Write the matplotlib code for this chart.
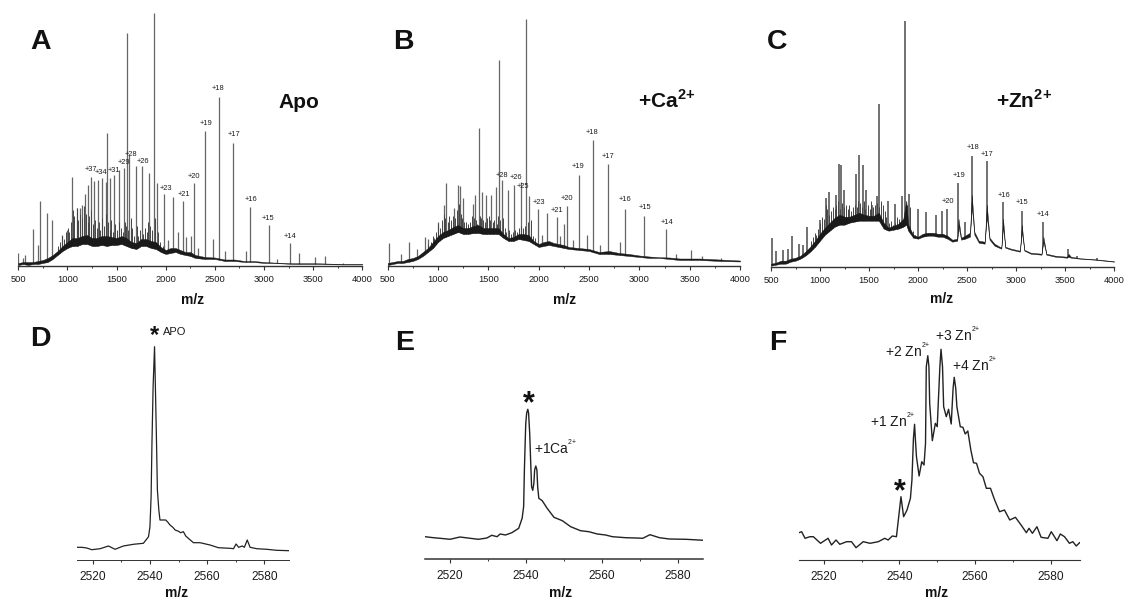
#!/usr/bin/env python3
import numpy as np
import matplotlib
matplotlib.use('Agg')
import matplotlib.pyplot as plt
from matplotlib.ticker import MultipleLocator

W, H = 1124, 599
plt.rcParams['font.family'] = ['Liberation Sans', 'DejaVu Sans']
plt.rcParams['mathtext.fontset'] = 'custom'
plt.rcParams['mathtext.rm'] = 'Liberation Sans'
plt.rcParams['mathtext.bf'] = 'Liberation Sans:bold'

# Overview spectra: envelope band and sharp peaks (intensity in arbitrary units)
env_x = [500, 550, 600, 650, 700, 750, 800, 850, 900, 950, 1000, 1050, 1100, 1150, 1200, 1250, 1300, 1350,
         1400, 1450, 1500, 1550, 1600, 1650, 1700, 1750, 1800, 1850, 1900, 1950, 2000, 2050, 2100, 2150,
         2200, 2250, 2300, 2400, 2500, 2600, 2700, 2800, 2900, 3000, 3100, 3200, 3300, 3400, 3500, 3600,
         3800, 4000]
apo_low = [1, 2, 1, 2, 2, 3, 4, 7, 11, 15, 18, 20, 20, 22, 22, 20, 20, 21, 20, 21, 21, 22, 20, 18, 17, 20, 20,
           18, 17, 14, 12, 13, 14, 12, 11, 10, 8, 7, 7, 5, 5, 4, 4, 3, 3, 2.5, 2, 2, 2, 2, 1.5, 1.5]
apo_high = [3, 4, 4, 4, 5, 6, 8, 11, 15, 20, 24, 28, 28, 30, 31, 28, 28, 30, 30, 29, 28, 30, 28, 24, 23, 27, 27,
            25, 24, 19, 16, 18, 18, 16, 14, 14, 11, 9, 8.5, 6.5, 6.5, 5, 5, 4, 3.5, 3, 2.8, 2.8, 2.8, 2.6, 2, 2]
apo_peak_x = [500, 550, 570, 650, 703, 724, 788, 846, 944, 1000, 1049, 1093, 1127, 1148, 1178, 1205, 1236, 1270,
              1314, 1351, 1389, 1405, 1436, 1473, 1527, 1578, 1608, 1630, 1694, 1755, 1830, 1877, 1907, 1985,
              2026, 2073, 2128, 2175, 2209, 2253, 2287, 2331, 2402, 2484, 2541, 2604, 2687, 2816, 2857, 3047,
              3134, 3264, 3356, 3515, 3620, 3807]
apo_peak_y = [13, 8, 11, 37, 21, 65, 53, 46, 31, 36, 89, 58, 58, 61, 72, 81, 89, 85,
              86, 88, 84, 133, 88, 91, 96, 98, 233, 111, 100, 100, 93, 253, 83, 72,
              26, 69, 34, 65, 29, 30, 83, 18, 135, 27, 169, 15, 123, 15, 59, 41,
              7, 23, 13, 9, 10, 3]

ca_low = [1, 2, 3, 3, 4, 5, 7, 10, 14, 18, 24, 28, 30, 32, 34, 32, 32, 33, 33, 32, 32, 32, 32, 28, 25, 25, 27,
          26, 25, 22, 19, 20, 21, 20, 19, 18, 17, 16, 15, 12, 12, 11, 10, 9, 8, 8, 7, 6, 6, 6, 5, 4.5]
ca_high = [3, 4, 5, 5, 7, 8, 10, 14, 18, 24, 30, 34, 36, 39, 41, 38, 38, 40, 41, 38, 38, 38, 38, 32, 28, 29, 32,
           32, 31, 25, 22, 24, 25, 23, 22, 21, 19, 18, 17, 14, 15, 13, 12, 10.5, 9.5, 8.8, 8.5, 7.5, 7.5, 7.5, 6.5, 5.5]
ca_peak_x = [513, 632, 715, 795, 870, 904, 1000, 1063, 1083, 1162, 1195, 1215, 1252, 1351, 1368, 1404, 1440, 1477,
             1526, 1575, 1609, 1632, 1695, 1758, 1824, 1874, 1904, 1990, 2030, 2083, 2179, 2212, 2248, 2285,
             2338, 2404, 2480, 2540, 2612, 2689, 2811, 2855, 3046, 3265, 3367, 3516, 3622, 3808]
ca_peak_y = [23, 12, 24, 17, 29, 27, 44, 61, 83, 58, 81, 80, 68, 62, 71, 138, 74, 71,
             71, 79, 206, 86, 76, 81, 84, 247, 70, 57, 31, 53, 49, 30, 42, 60,
             26, 91, 31, 126, 21, 102, 24, 57, 50, 37, 12, 16, 10, 8]

zn_env_x = [500, 550, 600, 650, 700, 750, 800, 850, 900, 950, 1000, 1050, 1100, 1150, 1200, 1250, 1300, 1350,
            1400, 1450, 1500, 1550, 1600, 1650, 1700, 1750, 1800, 1850, 1880, 1900, 1950, 2000, 2050, 2100,
            2150, 2200, 2250, 2300, 2350, 2400, 2413, 2440, 2480, 2530, 2549, 2575, 2620, 2680, 2702, 2730,
            2780, 2850, 2868, 2890, 2950, 3040, 3059, 3085, 3150, 3260, 3279, 3310, 3400, 3520, 3535, 3560,
            3650, 3800, 4000]
zn_low = [1, 2, 3, 3, 5, 6, 8, 11, 15, 20, 26, 32, 36, 40, 42, 42, 44, 45, 46, 46, 46, 46, 46, 38, 36, 37, 38,
          40, 42, 36, 29, 28, 30, 31, 31, 30, 30, 28, 25, 26, 40, 27, 28, 30, 60, 32, 24, 23, 50, 27,
          21, 18, 40, 19, 17, 15, 35, 16, 13, 12, 25, 12, 10, 9, 10, 9, 8, 7, 5]
zn_high = [3, 4, 6, 6, 8, 9, 11, 15, 20, 26, 33, 39, 44, 49, 52, 50, 50, 52, 54, 52, 51, 51, 54, 44, 39, 41, 43,
           48, 66, 42, 32, 30, 33, 34, 34, 33, 33, 31, 27, 28, 48, 29, 31, 34, 72, 35, 26, 25, 62, 29,
           23, 19, 48, 20, 18, 16, 42, 17, 14, 13, 30, 13, 11, 10, 13, 10, 8.5, 7.5, 5.5]
zn_peak_x = [514, 551, 626, 677, 714, 785, 830, 867, 1000, 1061, 1091, 1159, 1193, 1217, 1248, 1366, 1400, 1434,
             1468, 1526, 1577, 1604, 1696, 1764, 1832, 1869, 1910, 1995, 2084, 2182, 2247, 2291, 2413, 2484,
             2549, 2702, 2868, 3059, 3279, 3531, 3626, 3826]
zn_peak_y = [29, 16, 17, 18, 31, 23, 22, 40, 47, 69, 75, 72, 103, 102, 77, 93, 112, 102,
             77, 62, 71, 163, 66, 63, 71, 246, 73, 58, 55, 52, 56, 58, 84, 45,
             111, 106, 65, 56, 45, 18, 11, 9]

# Dense small peaks sitting on the envelope
fine_x = [905, 927, 946, 962, 981, 1003, 1018, 1037, 1058, 1071, 1096, 1112, 1131, 1152, 1167, 1186, 1209, 1224,
          1243, 1262, 1281, 1297, 1318, 1336, 1354, 1373, 1392, 1413, 1429, 1446, 1462, 1488, 1506, 1521, 1542,
          1561, 1583, 1597, 1618, 1642, 1661, 1677, 1703, 1722, 1741, 1768, 1787, 1806, 1823, 1845, 1862, 1891,
          1921, 1946, 1968]
apo_fine_y = [20, 24, 30, 27, 34, 38, 34, 44, 56, 50, 58, 46, 52, 48, 60, 52, 44, 50,
              56, 42, 46, 38, 44, 36, 48, 40, 52, 44, 36, 46, 34, 42, 36, 44, 38,
              34, 44, 40, 36, 48, 38, 30, 40, 30, 36, 32, 38, 34, 44, 40, 36, 48,
              34, 24, 20]
ca_fine_y = [22, 24, 30, 28, 34, 42, 38, 46, 52, 48, 44, 50, 46, 50, 48, 56, 62, 52,
             48, 44, 44, 42, 44, 50, 48, 46, 42, 50, 48, 46, 44, 48, 50, 46, 44,
             46, 42, 50, 46, 48, 38, 34, 36, 32, 34, 36, 34, 38, 40, 38, 40, 44,
             46, 30, 28]
zn_fine_y = [26, 30, 34, 32, 38, 44, 50, 48, 62, 58, 52, 56, 60, 58, 62, 66, 58, 64,
             60, 62, 58, 62, 56, 60, 62, 60, 66, 64, 60, 66, 58, 62, 58, 66, 60,
             62, 64, 60, 66, 62, 56, 50, 44, 46, 42, 44, 50, 48, 44, 46, 48, 62,
             60, 36, 32]

# Charge state labels
apo_charge = ['+37', '+34', '+31', '+29', '+28', '+26', '+23', '+21', '+20', '+19', '+18', '+17', '+16', '+15', '+14']
apo_charge_x = [1239, 1344, 1477, 1575, 1646, 1768, 2002, 2189, 2287, 2406, 2535, 2691, 2864, 3043, 3264]
apo_charge_y = [96.7, 93.3, 95.3, 103.3, 112, 104.7, 77.7, 71.7, 89, 142.3, 177.3, 131.7, 66.3, 47.3, 30]
ca_charge = ['+28', '+26', '+25', '+23', '+21', '+20', '+19', '+18', '+17', '+16', '+15', '+14']
ca_charge_x = [1632, 1771, 1844, 2000, 2179, 2278, 2394, 2530, 2692, 2861, 3056, 3275]
ca_charge_y = [90.3, 88.7, 79.7, 63, 55.3, 67.3, 99.7, 133, 109.7, 66.7, 58.3, 43.3]
zn_charge = ['+20', '+19', '+18', '+17', '+16', '+15', '+14']
zn_charge_x = [2301, 2416, 2566, 2709, 2875, 3059, 3276]
zn_charge_y = [65, 91.3, 119.3, 112, 71, 63.7, 52]

# Zoomed spectra around the +18 charge state
d_x = [2514.6, 2516.2, 2517.9, 2519.7, 2522.6, 2525.5, 2527.8, 2530.7, 2534.2, 2537.7, 2539.5, 2540.0, 2540.4,
       2540.7, 2541.1, 2541.6, 2541.9, 2542.3, 2542.6, 2543.1, 2543.5, 2545.5, 2546.2, 2547.0, 2548.0, 2548.8,
       2550.0, 2550.7, 2551.7, 2552.5, 2553.4, 2555.2, 2557.5, 2561.0, 2563.9,
       2568.0, 2569.2, 2570.1, 2571.0, 2572.3, 2573.0, 2574.0, 2575.0, 2577.3, 2580.8, 2584.3, 2588.6]
d_y = [12.7, 12.7, 12, 10.3, 11.3, 14, 10.7, 14, 15.7, 16.7, 23.3, 33.3, 63.3,
       116.7, 173.3, 213.3, 173.3, 116.7, 70, 50, 40, 40, 38, 35, 32.7, 30,
       28.7, 27.3, 28.3, 24, 21.7, 17.3, 17.3, 15, 12.3,
       11.7, 11.3, 16, 12.7, 14, 12.7, 20, 12.7, 11.3, 10.7, 9.7, 9.3]
e_x = [2513.4, 2515.6, 2517.4, 2520, 2522.6, 2525.3, 2527.5, 2529.7, 2531.0, 2532.4, 2533.2, 2534.6, 2536.3,
       2538.1, 2539.0, 2539.4, 2539.6, 2539.8, 2539.95, 2540.2, 2540.5, 2540.7, 2541.0, 2541.3, 2541.5, 2541.8,
       2542.1, 2542.3, 2542.6, 2542.9, 2543.1, 2543.4, 2544.3,
       2545.6, 2547.4, 2549.6, 2551.8, 2554.4, 2556.6, 2558.8, 2561.0, 2562.8, 2566.3, 2569.0, 2570.8, 2572.7,
       2575.2, 2577.8, 2582.2, 2586.9]
e_y = [22.3, 21.3, 20.7, 19.7, 22, 20.7, 19.7, 21, 23.7, 22.3, 25, 24, 26.3,
       30.7, 40.7, 52.3, 89, 115.7, 135, 146, 149.7, 146, 125.7, 92.3, 72.3, 68.7,
       75.7, 89, 93, 89, 72.3, 60.7, 58.3,
       50.7, 41.7, 38.3, 32.3, 28.3, 27.3, 25, 24, 22.3, 21.3, 21, 20.7, 24.3,
       21.3, 20, 19.7, 18.7]
f_x = [2513.4, 2514.1, 2515.0, 2516.3, 2517.2, 2519.1, 2521.1, 2522.0, 2523.2, 2524.2, 2526.0, 2527.3, 2528.5,
       2530.4, 2532.2, 2534.4, 2536.1, 2537.0, 2538.1, 2539.2, 2539.8, 2540.4, 2541.1, 2542.0, 2542.9, 2543.3,
       2543.7, 2544.0, 2544.2, 2544.5, 2545.2, 2545.9, 2546.5, 2546.9, 2547.1, 2547.5, 2547.8, 2548.0, 2548.7,
       2549.5, 2550.0, 2550.7, 2551.0, 2551.4, 2551.7, 2552.4,
       2553.0, 2553.7, 2554.2, 2554.5, 2554.9, 2555.2, 2556.1, 2556.8, 2557.4, 2558.1, 2558.9, 2559.6, 2560.4,
       2561.2, 2562.1, 2563.0, 2564.1, 2565.2, 2566.5, 2567.8, 2569.2, 2570.7, 2572.2, 2573.6, 2574.3, 2575.2,
       2576.4, 2577.5, 2579.3, 2580.2, 2581.7, 2582.6, 2583.7, 2585.0, 2585.9, 2586.8, 2587.7]
f_y = [27.3, 28.3, 21.7, 23.3, 23.3, 16.7, 21.7, 15, 20, 15.7, 18.3, 18.3, 12.3,
       18.3, 16.7, 18.3, 21.7, 20, 24, 23.3, 43.3, 63.3, 43.3, 50, 61.7, 80,
       121.7, 135.7, 121.7, 103.3, 84, 98.3, 95, 116.7, 193.3, 204.3, 193.3, 156.7, 119.3,
       136.7, 133.3, 193.3, 210.7, 193.3, 153.3, 143.3,
       150.7, 136, 171.7, 182.7, 171.7, 153.3, 133.3, 132.7, 126, 129, 110, 97.3, 96.7,
       86.7, 83.3, 71.7, 71.7, 60, 48.3, 50, 40, 42.7, 35, 27.3, 31.7, 26.7,
       33.3, 22.7, 21.7, 28.3, 19.3, 26, 23.3, 16.7, 18.3, 14, 17.3]

TEXT = '#1c1c1c'
LINE = '#222222'

fig = plt.figure(figsize=(W / 100, H / 100), dpi=100)


def make_ax(left, right, base, height, xlim, major, minor, size, pad, spine_w):
    ax = fig.add_axes([left / W, (H - base) / H, (right - left) / W, height / H])
    ax.patch.set_alpha(0)
    ax.set_xlim(*xlim)
    ax.set_ylim(0, height)
    for s in ['top', 'left', 'right']:
        ax.spines[s].set_visible(False)
    ax.spines['bottom'].set_linewidth(spine_w)
    ax.spines['bottom'].set_color('#333333')
    ax.set_yticks([])
    ax.xaxis.set_major_locator(MultipleLocator(major))
    ax.xaxis.set_minor_locator(MultipleLocator(minor))
    ax.tick_params(axis='x', which='major', length=3, width=0.8, color='#333333',
                   labelsize=size, pad=pad, labelcolor=TEXT)
    ax.tick_params(axis='x', which='minor', length=1.6, width=0.7, color='#333333')
    return ax


def overview(ax, ex, low, high, px, py, fy, charge, cx, cy, peak_lw=0.9):
    ax.vlines(px, 0, py, color='#666666', lw=peak_lw, zorder=1)
    ax.vlines(fine_x, 0, fy, color='#444444', lw=0.7, zorder=1)
    ax.fill_between(ex, 0, low, color='white', lw=0, zorder=2)
    ax.fill_between(ex, low, high, color='#1a1a1a', lw=0.3, zorder=3)
    for c, x, y in zip(charge, cx, cy):
        ax.text(x, y, c, fontsize=5.4, color=TEXT, ha='center', va='center', zorder=4)


ax_a = make_ax(18.3, 362.3, 266, 266, (500, 4000), 500, 250, 6.7, 3.6, 1.0)
overview(ax_a, env_x, apo_low, apo_high, apo_peak_x, apo_peak_y, apo_fine_y, apo_charge, apo_charge_x, apo_charge_y)
ax_b = make_ax(387.7, 740, 266, 266, (500, 4000), 500, 250, 6.7, 3.6, 1.0)
overview(ax_b, env_x, ca_low, ca_high, ca_peak_x, ca_peak_y, ca_fine_y, ca_charge, ca_charge_x, ca_charge_y)
ax_c = make_ax(771, 1114, 266.7, 266, (500, 4000), 500, 250, 6.7, 3.6, 1.0)
overview(ax_c, zn_env_x, zn_low, zn_high, zn_peak_x, zn_peak_y, zn_fine_y, zn_charge, zn_charge_x, zn_charge_y, peak_lw=1.3)

SUP = '$^{^{2{+}}}$'

ax_d = make_ax(77, 289, 560, 240, (2514.5, 2588.6), 20, 10, 8.6, 5.2, 0.7)
ax_d.plot(d_x, d_y, color=LINE, lw=0.9, solid_joinstyle='round')
ax_d.text(2541.6, 224, '*', fontsize=17, fontweight='bold', color='#111111', ha='center', va='center')
ax_d.text(2544.7, 227.7, 'APO', fontsize=8, color=TEXT, ha='left', va='center')

ax_e = make_ax(425, 702.7, 559, 240, (2513.4, 2586.6), 20, 10, 8.6, 5.2, 1.1)
ax_e.plot(e_x, e_y, color=LINE, lw=1.0, solid_joinstyle='round')
ax_e.text(2540.8, 155, '*', fontsize=22, fontweight='bold', color='#111111', ha='center', va='center')
ax_e.text(2542.1, 111.7, '+1Ca' + SUP, fontsize=10, color=TEXT, ha='left', va='center')

ax_f = make_ax(799, 1080, 560, 240, (2513.4, 2587.8), 20, 10, 8.6, 5.2, 0.8)
ax_f.plot(f_x, f_y, color=LINE, lw=1.0, solid_joinstyle='round')
ax_f.text(2540.0, 68, '*', fontsize=22, fontweight='bold', color='#111111', ha='center', va='center')
ax_f.text(2532.3, 139, '+1 Zn' + SUP, fontsize=10, color=TEXT, ha='left', va='center')
ax_f.text(2536.3, 209.3, '+2 Zn' + SUP, fontsize=10, color=TEXT, ha='left', va='center')
ax_f.text(2549.3, 225, '+3 Zn' + SUP, fontsize=10, color=TEXT, ha='left', va='center')
ax_f.text(2553.9, 195.7, '+4 Zn' + SUP, fontsize=10, color=TEXT, ha='left', va='center')


def px_text(x, y, s, **kw):
    fig.text(x / W, 1 - y / H, s, color='#111111', va='center', **kw)


for x, y, s in [(30, 42, 'A'), (393, 42, 'B'), (767, 42, 'C'), (30, 339, 'D'), (395, 343, 'E'), (769, 343, 'F')]:
    px_text(x, y, s, fontsize=20.5, fontweight='bold', ha='left')
for x, y in [(193, 300), (565, 300), (942, 299), (177, 593), (561, 593), (937, 593)]:
    px_text(x, y, 'm/z', fontsize=10, fontweight='bold', ha='center')
px_text(278, 102, 'Apo', fontsize=15, fontweight='bold', ha='left')
px_text(638, 100, r'+Ca$^{\mathbf{2{+}}}$', fontsize=15, fontweight='bold', ha='left')
px_text(996, 100, r'+Zn$^{\mathbf{2{+}}}$', fontsize=15, fontweight='bold', ha='left')

fig.savefig('out.png', dpi=100)
